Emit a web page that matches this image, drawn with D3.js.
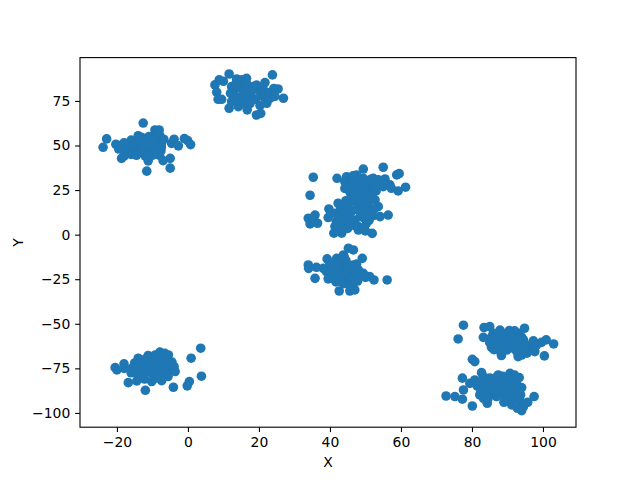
<!DOCTYPE html>
<html><head><meta charset="utf-8">
<script src="https://cdn.jsdelivr.net/npm/d3@7/dist/d3.min.js"></script>
<style>html,body{margin:0;padding:0;background:#fff}svg{display:block}
text{font-family:"DejaVu Sans",sans-serif;fill:#000}</style></head><body>
<svg id="c" width="640" height="480"></svg>
<script>
const xTicks = [-20,0,20,40,60,80,100];
const yTicks = [-100,-75,-50,-25,0,25,50,75];
const xDomain = [-30.4,109.3];
const yDomain = [-108,99.3];
const clusterA = [[-23.9,49],[-22.9,53.7],[-20.3,50.7],[-12.6,62.6],[-9.3,58.7],[-8.1,58.7],[-11.6,35.6],[-11.2,41.4],[-5,37.3],[-5,42.8],[-7,41.5],[-4.6,51.2],[-3.9,53.5],[-2.7,49.8],[-1,53.9],[-0.1,52.8],[0.75,50.5],[-18.7,42.8],[-18,44],[-19,50],[-18,47.5],[-17,51],[-16,48],[-15,52],[-14,46.5],[-14,50],[-13,54.5],[-12.5,49],[-12,46],[-11,52],[-10.5,48],[-9.5,55],[-9,50],[-8.5,46.5],[-8,53],[-7.5,49],[-8,44.5],[-10,44.5],[-12,44],[-16,45],[-8,56],[-11,55],[-14,55.5],[-16,53],[-18,51.5],[-7.5,51],[-17,45.5],[-15.5,50],[-13,47.5],[-13,52],[-11,50],[-10,53],[-9,47],[-7.6,47],[-14.5,44.5],[-6.8,53.5],[-19.5,48]];
const clusterB = [[11.6,90.1],[23.8,89.6],[21.7,85.3],[26.9,76.5],[13.7,87.3],[16.5,87.7],[15.1,86.8],[8.8,86.8],[7.6,84],[8.1,79.9],[8.5,75.9],[9.5,75.9],[11.6,70.9],[16.7,70],[19.3,67.1],[20.5,68],[20.3,72.4],[22.2,73.7],[25.4,81.7],[24.2,82],[23.6,79.3],[19.3,83.9],[12.3,83],[12.8,79.3],[13.7,75.5],[14.7,82.4],[15.6,79.3],[16.5,75.5],[17.5,78.4],[18.4,83],[20.3,80.2],[21.2,77.4],[23.1,76.5],[12.3,74.6],[15.1,73.7],[14.2,71.8],[12,79.3],[16.5,84.9],[10,86],[13.5,84.5],[14.5,77],[16,81.5],[18,80.5],[19,76],[13,77],[17.5,73.5],[22,80],[24.5,77.5],[21,83]];
const clusterC = [[35.3,32.2],[34.4,22.1],[49.4,36.8],[55,37.8],[42,31.6],[58.8,33.5],[59.5,34.2],[61.3,26.6],[59.2,24.5],[56.4,11],[54.1,10.1],[51.9,0.7],[50,2.1],[48,2.6],[43.3,0.8],[41.1,0.8],[33.9,9.2],[35.8,11],[36.5,6.4],[34.4,6],[35,8.3],[39.7,14.4],[39.5,9.6],[42.3,17.6],[44.7,32.5],[47.5,33.4],[46.1,31.6],[52.2,31.6],[53.6,30.7],[55.5,31.2],[44.2,25.9],[45.6,24],[48.9,28.8],[47,27.9],[50.8,27.9],[52.7,26],[55,26.9],[56.9,27.9],[57.3,26],[50.3,24.1],[48.4,25],[49.4,31.6],[44.2,29.7],[47,21.3],[50.3,20.4],[52.7,19.5],[53.6,15.7],[45.1,16.7],[47.9,16.7],[50.8,15.7],[43.2,13.9],[46,12.9],[48.9,12],[51.7,12.9],[41.4,12],[44.2,10.1],[47,8.2],[49.8,9.2],[41.8,7.3],[41.4,4.5],[45.6,6.4],[48,4.5],[50.3,6.4],[42.3,2.6],[46.2,29],[48,30.5],[51,29.5],[53,28.5],[55,29],[45.5,27],[47.5,24.5],[49.5,26.5],[52,23.5],[46,22.5],[48.5,22],[50.5,18],[46.5,19],[48.7,18.5],[44.5,19],[43,15.5],[45.5,14.5],[47.5,14],[49.5,14.5],[52,10.5],[44,12],[42.5,9.5],[45.5,9],[48.5,10],[51,8],[43.5,6],[47,5],[45,3.5],[49.5,4],[52.5,14.5],[50.5,11],[53,24.5],[51.5,31],[46.5,33]];
const clusterD = [[45.2,-7.6],[46.6,-8.6],[33.9,-17],[34,-18.9],[36.2,-18.3],[35.8,-24.5],[39.2,-13.6],[41.9,-13.3],[43.8,-11.4],[49.1,-13.3],[56.1,-25.4],[52.4,-25.4],[51.2,-23.5],[42.6,-31.6],[45.6,-31.6],[47,-31],[46.6,-27.3],[39.5,-24.8],[44.7,-25.4],[38.1,-18.9],[40,-18.9],[41.4,-17],[43.3,-17.9],[46.6,-17],[48,-19.8],[49.4,-21.7],[41.4,-21.7],[43.3,-22.6],[46,-21.7],[44.7,-19.8],[40.9,-24.5],[42.8,-24.5],[47.5,-23.5],[39,-20.7],[42.5,-15],[44.5,-14.5],[45,-17],[47.5,-16.5],[40,-16],[42.2,-19.5],[39.8,-22.5],[44.3,-23],[46.2,-24.5],[48.5,-22.5],[43.8,-27.5],[41.7,-26.5],[45.5,-28.5],[44,-12.5],[50,-24],[47.8,-26]];
const clusterE = [[3.6,-63.7],[0.9,-69.3],[3.8,-79.4],[0.4,-82.4],[-0.2,-84.8],[-4.1,-85.6],[-12,-87.3],[-16.8,-83],[-20.5,-74.6],[-20,-75.9],[-18,-72.5],[-18,-75],[-15.8,-75],[-14,-69.3],[-11.2,-67.8],[-7.9,-65.9],[-6.5,-66.6],[-5.5,-67.5],[-3.9,-74],[-3.6,-76.8],[-7.4,-81.9],[-10.2,-82.4],[-14.4,-82],[-14.4,-77.7],[-12.6,-74.9],[-10.7,-73.1],[-8.8,-71.2],[-7,-73.1],[-5.6,-75.9],[-12.6,-78.7],[-10.2,-77.7],[-8,-77.7],[-5.6,-79.6],[-10.7,-69.3],[-13,-71.5],[-8.3,-68.4],[-5.1,-73.1],[-9.3,-80.6],[-15,-72],[-16,-77.5],[-12.2,-81],[-13.5,-76],[-11.5,-71.5],[-9.5,-75],[-7.5,-75.5],[-6.5,-70],[-4.5,-71.5],[-6.2,-78],[-11.2,-75.8],[-9.2,-67.5],[-14,-74],[-12,-69.8],[-8,-79.8]];
const clusterF = [[77.6,-50.8],[76.1,-58.5],[83.4,-52.1],[85,-51.6],[83.2,-57.6],[87.9,-53.5],[90.5,-53.8],[94.8,-52.5],[93,-55.3],[85.5,-63.2],[88.3,-67.8],[88,-65.6],[93,-68.4],[94,-67.5],[97.7,-65.6],[100.4,-68],[97.3,-59.6],[100.9,-59],[103,-61.3],[99.6,-60.4],[98.2,-61.9],[87,-56.3],[89.3,-58.1],[91.6,-58.1],[87.9,-60.9],[90.7,-61.9],[93,-60.9],[94.9,-63.7],[89.8,-64.7],[92.6,-65.6],[87,-59.1],[86,-55.3],[90.7,-55.3],[88.5,-55.5],[85.5,-57.5],[86.5,-61.5],[89,-62.5],[92,-59.8],[91,-63.5],[93.5,-62.7],[96,-62],[96.5,-64.5],[94.5,-59],[92,-54],[88.8,-59.5],[85,-60.5],[95.5,-66.5],[91,-57],[94,-57.5],[97.5,-63.5],[86.2,-64.5]];
const clusterG = [[80.1,-69.9],[80.8,-71.2],[77.3,-80.5],[72.7,-90.5],[75.2,-90.8],[77.3,-92.3],[80.1,-96.1],[84.3,-94.6],[77.6,-87.1],[79.4,-83.4],[80.8,-81.5],[82.7,-77.4],[83.2,-79.6],[87.4,-78.7],[90.7,-77.8],[93.3,-80.2],[94,-85.8],[93.7,-89.9],[97.5,-90.8],[95.7,-94],[94,-98.7],[92.8,-97.4],[91.2,-95.5],[89,-94],[88.8,-89.9],[82.2,-89.9],[83.2,-91.8],[85,-89.9],[86.9,-90.8],[82.7,-86.1],[84.6,-85.2],[86.4,-83.4],[88.3,-82.5],[90.7,-83.4],[92,-86.1],[85,-80.5],[89.3,-85.2],[86.4,-87.1],[82.2,-83.4],[91.2,-90.8],[84,-82],[86.5,-80.5],[88.7,-79.5],[91.5,-80.5],[92.5,-83],[84,-87.8],[82.5,-88.5],[88.5,-87.5],[90.5,-88],[93,-88],[90,-92.5],[91.5,-92.8],[93.5,-93],[84.5,-92],[87.8,-85],[85.8,-82.5],[81.5,-85],[92,-78.8],[94.5,-96.5],[89.7,-81]];
const points = [clusterA,clusterB,clusterC,clusterD,clusterE,clusterF,clusterG].flat();

const L=80,R=576,T=57.6,B=427.2;
const svg=d3.select("#c");
const x=d3.scaleLinear().domain(xDomain).range([L,R]);
const y=d3.scaleLinear().domain(yDomain).range([B,T]);
svg.append("g").selectAll("circle").data(points).join("circle")
  .attr("cx",d=>x(d[0])).attr("cy",d=>y(d[1])).attr("r",4.8).attr("fill","#1f77b4");
const fmt=d=>String(d).replace("-","\u2212");
const gx=svg.append("g").attr("transform",`translate(0,${B})`)
  .call(d3.axisBottom(x).tickValues(xTicks).tickFormat(fmt).tickSize(4.86).tickPadding(4.9));
const gy=svg.append("g").attr("transform",`translate(${L},0)`)
  .call(d3.axisLeft(y).tickValues(yTicks).tickFormat(fmt).tickSize(4.86).tickPadding(4.9));
[gx,gy].forEach(g=>{g.select(".domain").remove();
  g.selectAll("line").attr("stroke","#000").attr("stroke-width",1.1);
  g.selectAll("text").attr("font-size",13.9).attr("font-family","DejaVu Sans").attr("fill","#000");});
svg.append("rect").attr("x",L).attr("y",T).attr("width",R-L).attr("height",B-T)
  .attr("fill","none").attr("stroke","#000").attr("stroke-width",1.1);
svg.append("text").attr("x",(L+R)/2).attr("y",467).attr("text-anchor","middle").attr("font-size",13.9).text("X");
svg.append("text").attr("transform",`translate(23,${(T+B)/2}) rotate(-90)`).attr("text-anchor","middle").attr("font-size",13.9).text("Y");
</script></body></html>
